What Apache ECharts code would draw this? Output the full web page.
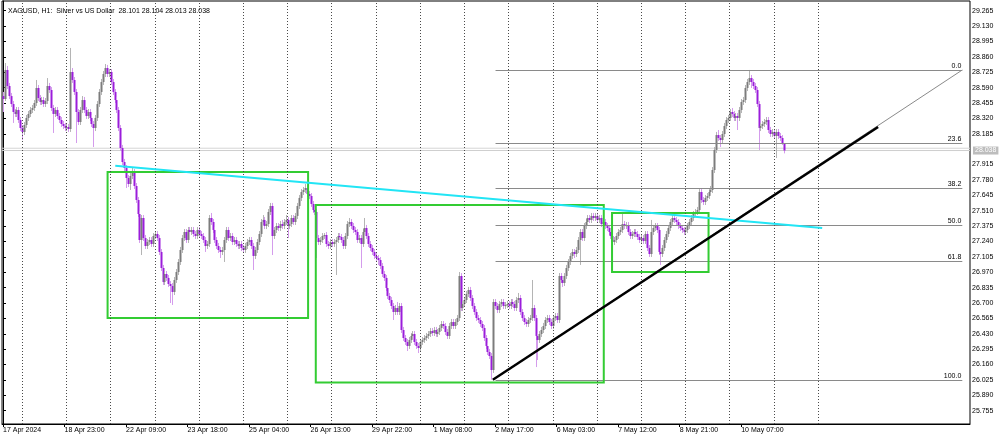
<!DOCTYPE html>
<html><head><meta charset="utf-8">
<script src="https://cdn.jsdelivr.net/npm/echarts@6/dist/echarts.min.js"></script>
<style>html,body{margin:0;padding:0;background:#fff}#c{width:1000px;height:436px}</style>
</head><body><div id="c"></div>
<script>
// ---- data (XAGUSD H1, bar index 0 = 17 Apr 2024 14:00) ----
const opens = [
28.516,28.490,28.745,28.604,28.516,28.446,28.376,28.359,28.394,28.306,
28.236,28.201,28.262,28.324,28.359,28.394,28.411,28.455,28.587,28.499,
28.464,28.481,28.446,28.473,28.604,28.569,28.411,28.359,28.394,28.341,
28.306,28.271,28.253,28.236,28.245,28.227,28.727,28.657,28.552,28.376,
28.288,28.394,28.481,28.394,28.341,28.376,28.324,28.271,28.236,28.324,
28.446,28.552,28.639,28.710,28.762,28.710,28.727,28.639,28.552,28.481,
28.394,28.236,28.060,27.937,27.885,27.797,27.744,27.815,27.850,27.727,
27.604,27.481,27.253,27.446,27.270,27.200,27.235,27.253,27.218,27.288,
27.306,27.270,27.148,27.007,26.884,26.955,26.920,26.867,26.849,26.797,
26.902,26.972,27.060,27.165,27.270,27.323,27.253,27.341,27.323,27.341,
27.306,27.288,27.341,27.306,27.288,27.253,27.200,27.218,27.446,27.411,
27.341,27.253,27.200,27.165,27.148,27.165,27.253,27.341,27.270,27.288,
27.235,27.253,27.218,27.200,27.218,27.183,27.165,27.200,27.235,27.253,
27.200,27.113,27.165,27.235,27.306,27.411,27.429,27.376,27.393,27.499,
27.551,27.288,27.341,27.376,27.358,27.393,27.376,27.411,27.429,27.376,
27.393,27.446,27.411,27.464,27.551,27.622,27.674,27.692,27.709,27.657,
27.639,27.569,27.516,27.499,27.270,27.235,27.253,27.288,27.297,27.218,
27.200,27.235,27.218,27.235,27.253,27.288,27.279,27.253,27.200,27.288,
27.393,27.411,27.376,27.341,27.323,27.253,27.270,27.218,27.323,27.358,
27.288,27.218,27.183,27.148,27.113,27.095,27.077,27.025,26.955,26.920,
26.832,26.762,26.726,26.674,26.621,26.656,26.621,26.674,26.463,26.393,
26.358,26.323,26.375,26.411,26.428,26.358,26.323,26.305,26.358,26.375,
26.393,26.411,26.428,26.454,26.437,26.463,26.428,26.446,26.481,26.516,
26.498,26.446,26.411,26.498,26.533,26.498,26.533,26.568,26.937,26.656,
26.691,26.726,26.779,26.814,26.744,26.674,26.621,26.568,26.551,26.516,
26.481,26.393,26.323,26.270,26.235,26.112,26.709,26.674,26.639,26.691,
26.709,26.674,26.683,26.691,26.674,26.709,26.691,26.656,26.726,26.744,
26.621,26.568,26.533,26.516,26.551,26.568,26.656,26.568,26.411,26.375,
26.428,26.463,26.498,26.551,26.568,26.533,26.498,26.568,26.586,26.551,
26.937,26.902,26.876,26.937,27.007,27.060,27.113,27.148,27.130,27.165,
27.253,27.323,27.270,27.376,27.411,27.446,27.429,27.464,27.446,27.464,
27.429,27.446,27.393,27.411,27.376,27.358,27.323,27.288,27.235,27.253,
27.288,27.323,27.341,27.393,27.376,27.385,27.323,27.288,27.306,27.323,
27.306,27.279,27.253,27.270,27.244,27.306,27.183,27.130,27.323,27.358,
27.376,27.341,27.148,27.130,27.183,27.253,27.306,27.358,27.411,27.446,
27.429,27.411,27.376,27.358,27.341,27.323,27.341,27.376,27.411,27.446,
27.481,27.499,27.516,27.674,27.604,27.586,27.622,27.639,27.674,27.692,
27.867,28.043,28.174,28.148,28.130,28.183,28.253,28.306,28.324,28.376,
28.359,28.324,28.341,28.324,28.394,28.464,28.481,28.587,28.639,28.674,
28.639,28.604,28.569,28.446,28.236,28.253,28.271,28.288,28.306,28.218,
28.183,28.201,28.166,28.201,28.166,28.148,28.101];
const closes = [
28.490,28.745,28.604,28.516,28.446,28.376,28.359,28.394,28.306,28.236,
28.201,28.262,28.324,28.359,28.394,28.411,28.455,28.587,28.499,28.464,
28.481,28.446,28.473,28.604,28.569,28.411,28.359,28.394,28.341,28.306,
28.271,28.253,28.236,28.245,28.227,28.727,28.657,28.552,28.376,28.288,
28.394,28.481,28.394,28.341,28.376,28.324,28.271,28.236,28.324,28.446,
28.552,28.639,28.710,28.762,28.710,28.727,28.639,28.552,28.481,28.394,
28.236,28.060,27.937,27.885,27.797,27.744,27.815,27.850,27.727,27.604,
27.481,27.253,27.446,27.270,27.200,27.235,27.253,27.218,27.288,27.306,
27.270,27.148,27.007,26.884,26.955,26.920,26.867,26.849,26.797,26.902,
26.972,27.060,27.165,27.270,27.323,27.253,27.341,27.323,27.341,27.306,
27.288,27.341,27.306,27.288,27.253,27.200,27.218,27.446,27.411,27.341,
27.253,27.200,27.165,27.148,27.165,27.253,27.341,27.270,27.288,27.235,
27.253,27.218,27.200,27.218,27.183,27.165,27.200,27.235,27.253,27.200,
27.113,27.165,27.235,27.306,27.411,27.429,27.376,27.393,27.499,27.551,
27.288,27.341,27.376,27.358,27.393,27.376,27.411,27.429,27.376,27.393,
27.446,27.411,27.464,27.551,27.622,27.674,27.692,27.709,27.657,27.639,
27.569,27.516,27.499,27.270,27.235,27.253,27.288,27.297,27.218,27.200,
27.235,27.218,27.235,27.253,27.288,27.279,27.253,27.200,27.288,27.393,
27.411,27.376,27.341,27.323,27.253,27.270,27.218,27.323,27.358,27.288,
27.218,27.183,27.148,27.113,27.095,27.077,27.025,26.955,26.920,26.832,
26.762,26.726,26.674,26.621,26.656,26.621,26.674,26.463,26.393,26.358,
26.323,26.375,26.411,26.428,26.358,26.323,26.305,26.358,26.375,26.393,
26.411,26.428,26.454,26.437,26.463,26.428,26.446,26.481,26.516,26.498,
26.446,26.411,26.498,26.533,26.498,26.533,26.568,26.937,26.656,26.691,
26.726,26.779,26.814,26.744,26.674,26.621,26.568,26.551,26.516,26.481,
26.393,26.323,26.270,26.235,26.112,26.709,26.674,26.639,26.691,26.709,
26.674,26.683,26.691,26.674,26.709,26.691,26.656,26.726,26.744,26.621,
26.568,26.533,26.516,26.551,26.568,26.656,26.568,26.411,26.375,26.428,
26.463,26.498,26.551,26.568,26.533,26.498,26.568,26.586,26.551,26.937,
26.902,26.876,26.937,27.007,27.060,27.113,27.148,27.130,27.165,27.253,
27.323,27.270,27.376,27.411,27.446,27.429,27.464,27.446,27.464,27.429,
27.446,27.393,27.411,27.376,27.358,27.323,27.288,27.235,27.253,27.288,
27.323,27.341,27.393,27.376,27.385,27.323,27.288,27.306,27.323,27.306,
27.279,27.253,27.270,27.244,27.306,27.183,27.130,27.323,27.358,27.376,
27.341,27.148,27.130,27.183,27.253,27.306,27.358,27.411,27.446,27.429,
27.411,27.376,27.358,27.341,27.323,27.341,27.376,27.411,27.446,27.481,
27.499,27.516,27.674,27.604,27.586,27.622,27.639,27.674,27.692,27.867,
28.043,28.174,28.148,28.130,28.183,28.253,28.306,28.324,28.376,28.359,
28.324,28.341,28.324,28.394,28.464,28.481,28.587,28.639,28.674,28.639,
28.604,28.569,28.446,28.236,28.253,28.271,28.288,28.306,28.218,28.183,
28.201,28.166,28.201,28.166,28.148,28.101,28.038];
const highs = [
28.552,28.806,28.780,28.631,28.543,28.473,28.402,28.420,28.420,28.332,
28.262,28.288,28.350,28.385,28.420,28.438,28.481,28.657,28.613,28.525,
28.508,28.508,28.499,28.674,28.631,28.595,28.438,28.420,28.420,28.367,
28.332,28.297,28.280,28.271,28.271,28.938,28.762,28.683,28.578,28.402,
28.420,28.516,28.508,28.420,28.402,28.402,28.350,28.297,28.350,28.473,
28.578,28.666,28.736,28.797,28.789,28.753,28.753,28.666,28.578,28.508,
28.420,28.262,28.087,27.964,27.911,27.823,27.841,27.885,27.876,27.753,
27.630,27.507,27.472,27.472,27.297,27.262,27.279,27.279,27.314,27.332,
27.332,27.297,27.174,27.034,26.981,26.981,26.946,26.893,26.876,26.928,
26.998,27.086,27.192,27.297,27.349,27.349,27.367,27.367,27.367,27.367,
27.332,27.367,27.367,27.332,27.314,27.279,27.244,27.472,27.490,27.437,
27.367,27.279,27.227,27.192,27.192,27.279,27.367,27.367,27.314,27.314,
27.279,27.279,27.244,27.244,27.244,27.209,27.227,27.262,27.279,27.279,
27.227,27.192,27.262,27.332,27.437,27.472,27.455,27.420,27.525,27.578,
27.578,27.367,27.402,27.402,27.420,27.429,27.437,27.472,27.455,27.420,
27.472,27.472,27.490,27.578,27.648,27.700,27.718,27.744,27.736,27.683,
27.665,27.595,27.543,27.525,27.297,27.279,27.314,27.314,27.323,27.244,
27.262,27.262,27.262,27.279,27.314,27.314,27.306,27.279,27.314,27.420,
27.446,27.437,27.402,27.367,27.349,27.297,27.297,27.349,27.446,27.385,
27.314,27.244,27.209,27.174,27.139,27.121,27.104,27.051,26.981,26.946,
26.858,26.788,26.753,26.700,26.683,26.709,26.700,26.700,26.490,26.419,
26.384,26.402,26.437,26.454,26.454,26.384,26.349,26.384,26.402,26.419,
26.437,26.454,26.481,26.481,26.490,26.490,26.472,26.507,26.542,26.542,
26.525,26.472,26.525,26.560,26.560,26.560,26.595,26.972,26.963,26.718,
26.753,26.805,26.841,26.841,26.770,26.700,26.647,26.595,26.577,26.542,
26.507,26.419,26.349,26.297,26.261,26.735,26.735,26.700,26.718,26.735,
26.735,26.709,26.718,26.718,26.735,26.735,26.718,26.753,26.788,26.770,
26.647,26.595,26.560,26.577,26.595,26.902,26.683,26.595,26.437,26.454,
26.490,26.525,26.577,26.595,26.595,26.560,26.595,26.612,26.612,26.963,
26.963,26.928,26.963,27.034,27.086,27.139,27.174,27.174,27.192,27.279,
27.349,27.349,27.402,27.437,27.472,27.472,27.490,27.490,27.490,27.490,
27.472,27.472,27.437,27.437,27.402,27.385,27.349,27.314,27.279,27.314,
27.349,27.367,27.499,27.420,27.411,27.411,27.349,27.332,27.349,27.349,
27.332,27.306,27.297,27.297,27.332,27.332,27.209,27.429,27.385,27.402,
27.402,27.367,27.174,27.209,27.279,27.332,27.385,27.437,27.490,27.472,
27.455,27.437,27.402,27.385,27.367,27.367,27.402,27.437,27.472,27.507,
27.525,27.543,27.700,27.700,27.630,27.648,27.665,27.700,27.727,27.893,
28.069,28.201,28.218,28.174,28.209,28.280,28.332,28.350,28.402,28.411,
28.385,28.367,28.367,28.420,28.490,28.508,28.613,28.666,28.745,28.701,
28.666,28.631,28.595,28.473,28.280,28.297,28.315,28.332,28.332,28.245,
28.227,28.227,28.227,28.227,28.192,28.174,28.104];
const lows = [
28.376,28.473,28.578,28.490,28.420,28.280,28.332,28.332,28.280,28.209,
28.130,28.174,28.236,28.297,28.332,28.367,28.385,28.429,28.473,28.438,
28.438,28.420,28.420,28.446,28.543,28.385,28.192,28.332,28.315,28.280,
28.245,28.227,28.209,28.209,28.201,28.201,28.631,28.525,28.104,28.262,
28.262,28.367,28.367,28.315,28.315,28.297,28.245,28.069,28.209,28.297,
28.420,28.525,28.613,28.683,28.683,28.683,28.613,28.525,28.455,28.367,
28.209,28.034,27.911,27.858,27.709,27.718,27.692,27.788,27.700,27.578,
27.455,27.227,27.121,27.244,27.174,27.174,27.209,27.192,27.192,27.262,
27.244,27.121,26.981,26.858,26.858,26.893,26.841,26.700,26.683,26.770,
26.876,26.946,27.034,27.139,27.244,27.227,27.227,27.297,27.297,27.279,
27.262,27.262,27.279,27.262,27.227,27.148,27.174,27.192,27.385,27.314,
27.227,27.174,27.139,27.095,27.121,27.060,27.227,27.244,27.244,27.209,
27.209,27.192,27.174,27.174,27.156,27.139,27.139,27.174,27.209,27.174,
26.990,27.086,27.139,27.209,27.279,27.385,27.349,27.349,27.367,27.472,
27.121,27.262,27.314,27.332,27.332,27.349,27.349,27.385,27.270,27.349,
27.367,27.385,27.385,27.437,27.525,27.595,27.648,27.665,27.630,27.613,
27.543,27.490,27.472,27.095,27.209,27.209,27.227,27.262,27.192,27.174,
27.174,27.192,27.192,26.946,27.227,27.253,27.227,27.174,27.174,27.262,
27.367,27.349,27.314,27.297,27.227,27.227,27.007,27.192,27.297,27.262,
27.192,27.156,27.121,27.086,27.069,27.034,26.998,26.928,26.893,26.805,
26.735,26.700,26.647,26.551,26.595,26.595,26.595,26.437,26.367,26.332,
26.279,26.297,26.349,26.384,26.332,26.297,26.261,26.279,26.332,26.349,
26.367,26.384,26.402,26.411,26.411,26.402,26.402,26.419,26.454,26.472,
26.419,26.384,26.384,26.472,26.472,26.472,26.507,26.542,26.630,26.630,
26.665,26.700,26.753,26.718,26.647,26.595,26.542,26.525,26.490,26.454,
26.367,26.297,26.244,26.209,26.027,26.086,26.647,26.612,26.612,26.665,
26.647,26.647,26.656,26.647,26.647,26.665,26.630,26.630,26.700,26.595,
26.542,26.507,26.490,26.490,26.525,26.542,26.542,26.138,26.200,26.349,
26.402,26.437,26.472,26.525,26.507,26.472,26.472,26.542,26.525,26.525,
26.876,26.841,26.849,26.911,26.981,27.034,27.086,27.095,27.104,27.139,
27.034,27.244,27.244,27.349,27.385,27.402,27.402,27.420,27.420,27.402,
27.402,27.367,27.367,27.349,27.332,27.297,27.262,27.165,27.209,27.227,
27.262,27.297,27.314,27.349,27.349,27.297,27.262,27.262,27.279,27.279,
27.253,27.227,27.227,27.218,27.218,27.156,27.104,27.104,27.297,27.332,
27.314,27.121,27.034,27.104,27.156,27.227,27.279,27.332,27.385,27.402,
27.385,27.349,27.332,27.314,27.297,27.297,27.314,27.349,27.385,27.420,
27.455,27.472,27.490,27.578,27.560,27.560,27.595,27.613,27.648,27.665,
27.841,28.016,28.122,28.069,28.104,28.157,28.227,28.280,28.297,28.332,
28.297,28.297,28.218,28.297,28.367,28.438,28.455,28.560,28.613,28.587,
28.578,28.543,28.420,28.043,28.209,28.227,28.245,28.262,28.192,28.157,
28.157,28.139,27.972,28.139,28.122,28.087,28.013];

const titleText = 'XAGUSD, H1:  Silver vs US Dollar  28.101 28.104 28.013 28.038';
const xTickBars = [0,32,64,96,128,160,192,224,256,288,320,352,384];
const xTickLabels = ['17 Apr 2024','18 Apr 23:00','22 Apr 09:00','23 Apr 18:00','25 Apr 04:00','26 Apr 13:00',
  '29 Apr 22:00','1 May 08:00','2 May 17:00','6 May 03:00','7 May 12:00','8 May 21:00','10 May 07:00'];
const daySeparators = [10,33,56,79,102,125,148,171,194,217,240,263,286,309,332,355,378,401,424];
const yTickValues = [29.265,29.130,28.995,28.860,28.725,28.590,28.455,28.320,28.185,27.915,27.780,27.645,
  27.510,27.375,27.240,27.105,26.970,26.835,26.700,26.565,26.430,26.295,26.160,26.025,25.890,25.755];
const bidPrice = 28.038;
const askPrice = 28.058;

// drawn objects (bar index, price)
const boxes = [ [54.4, 27.850, 158.7, 26.568], [162.7, 27.560, 312.5, 26.002], [316.8, 27.490, 367.0, 26.972] ];
const cyanLine = [[58.4, 27.905], [426.1, 27.358]];
const blackLine = [[254.8, 26.027], [455.2, 28.245]];
const fibDiagonal = [[254.8, 26.027], [499, 28.745]];
const fibLabels = ['0.0','23.6','38.2','50.0','61.8','100.0'];
const fibPrices = [28.745, 28.104, 27.707, 27.386, 27.065, 26.027];
const fibStart = 256.2, fibEnd = 499;

const FONT = 'Liberation Sans';
const candleRows = closes.map((c, i) => [i, opens[i], c, lows[i], highs[i]]);

const chart = echarts.init(document.getElementById('c'), null, {renderer: 'canvas'});

function candleItem(params, api) {
  const i = api.value(0), o = api.value(1), c = api.value(2), l = api.value(3), h = api.value(4);
  const pO = api.coord([i, o]), pC = api.coord([i, c]), pL = api.coord([i, l]), pH = api.coord([i, h]);
  const bull = c >= o;
  const x = pO[0];
  const xr = Math.round(x);
  const top = Math.min(pO[1], pC[1]), bot = Math.max(pO[1], pC[1]);
  return {type: 'group', children: [
    {type: 'line', shape: {x1: xr + 0.5, y1: pH[1], x2: xr + 0.5, y2: pL[1]},
     style: {stroke: bull ? '#b4b4b4' : '#d49cec', lineWidth: 1}},
    {type: 'rect', shape: {x: xr - 0.5, y: top, width: 2, height: Math.max(bot - top, 1.2)},
     style: {fill: bull ? '#7c7c7c' : '#9b1ddb'}}
  ]};
}

function segSeries(name, pts, color, width, z) {
  return {name, type: 'line', data: pts, showSymbol: false, symbol: 'none', silent: true, z,
    lineStyle: {color, width}, animation: false};
}

const series = [
  { // bid line with price box + day separators
    type: 'line', data: [[-0.5, bidPrice], [503, bidPrice]], showSymbol: false, symbol: 'none', silent: true, z: 1,
    lineStyle: {color: '#cfcfcf', width: 1},
    endLabel: {show: true, formatter: () => bidPrice.toFixed(3), backgroundColor: '#bdbdbd', color: '#ffffff',
      fontSize: 7, fontFamily: FONT, padding: [1, 2, 0, 2], distance: 3},
    markLine: {symbol: 'none', silent: true, label: {show: false}, animation: false,
      lineStyle: {type: [1, 2], color: '#4a4a4a', width: 1},
      data: daySeparators.map(b => ({xAxis: b}))}
  },
  segSeries('ask', [[-0.5, askPrice], [503, askPrice]], '#d6d6d6', 1, 1),
  {
    type: 'custom', renderItem: candleItem, data: candleRows, z: 2, clip: true,
    encode: {x: 0, y: [1, 2, 3, 4]}, animation: false, silent: true
  },
  { // fibonacci levels
    type: 'custom', z: 3, silent: true, animation: false, clip: false,
    data: fibPrices.map(p => [fibStart, fibEnd, p]),
    encode: {x: [0, 1], y: 2},
    renderItem: (params, api) => {
      const p1 = api.coord([api.value(0), api.value(2)]);
      const p2 = api.coord([api.value(1), api.value(2)]);
      const y = Math.round(p1[1]) + 0.5;
      return {type: 'group', children: [
        {type: 'line', shape: {x1: p1[0], y1: y, x2: p2[0], y2: y}, style: {stroke: '#8a8a8a', lineWidth: 1}},
        {type: 'text', style: {text: fibLabels[params.dataIndex], x: p2[0] - 1, y: y - 1, align: 'right',
          verticalAlign: 'bottom', fontSize: 7, fontFamily: FONT, fill: '#000'}}
      ]};
    }
  },
  segSeries('fibdiag', fibDiagonal, '#8a8a8a', 1, 3),
  { // green boxes
    type: 'custom', z: 4, silent: true, animation: false,
    data: boxes, encode: {x: [0, 2], y: [1, 3]},
    renderItem: (params, api) => {
      const a = api.coord([api.value(0), api.value(1)]);
      const b = api.coord([api.value(2), api.value(3)]);
      return {type: 'rect', shape: {x: a[0], y: a[1], width: b[0] - a[0], height: b[1] - a[1]},
        style: {fill: null, stroke: '#33cc33', lineWidth: 2}};
    }
  },
  segSeries('cyan', cyanLine, '#22e5f5', 2, 5),
  segSeries('trend', blackLine, '#000000', 2.5, 5)
];

chart.setOption({
  animation: false,
  backgroundColor: '#ffffff',
  title: {text: titleText, left: 3, top: 3, textStyle: {fontSize: 7, fontWeight: 'normal', color: '#000', fontFamily: FONT}},
  grid: {left: 1, right: 30, top: 1, bottom: 12, show: true, borderColor: '#000', borderWidth: 1, containLabel: false},
  xAxis: {
    type: 'value', min: -0.5, max: 503,
    axisLine: {show: true, onZero: false, lineStyle: {color: '#000'}},
    splitLine: {show: false},
    axisTick: {show: true, length: 3, customValues: xTickBars, lineStyle: {color: '#000'}},
    axisLabel: {customValues: xTickBars, align: 'left', margin: 3, fontSize: 7, fontFamily: FONT, color: '#000',
      formatter: v => xTickLabels[xTickBars.indexOf(Math.round(v))] || ''}
  },
  yAxis: {
    type: 'value', position: 'right', min: 25.6383, max: 29.3501, scale: true,
    axisLine: {show: true, lineStyle: {color: '#000'}},
    splitLine: {show: false},
    axisTick: {show: true, length: 3, customValues: yTickValues, lineStyle: {color: '#000'}},
    axisLabel: {customValues: yTickValues, margin: 2, fontSize: 7, fontFamily: FONT, color: '#000',
      formatter: v => v.toFixed(3)}
  },
  series
});
</script></body></html>
